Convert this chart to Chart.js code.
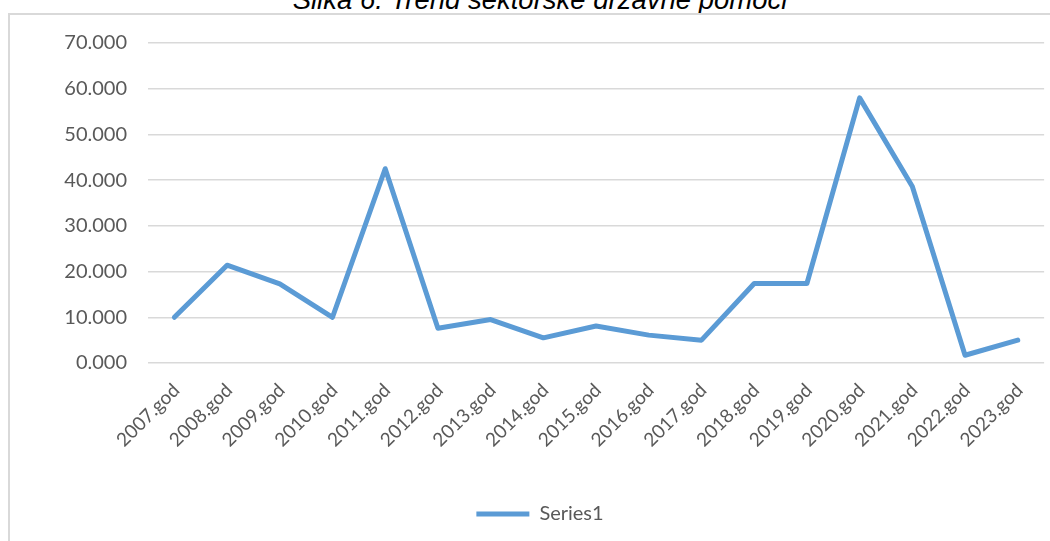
<!DOCTYPE html>
<html>
<head>
<meta charset="utf-8">
<script src="https://cdn.jsdelivr.net/npm/chart.js@4/dist/chart.umd.min.js"></script>
<style>
  html, body { margin: 0; padding: 0; background: #ffffff; }
  #wrap { position: relative; width: 1050px; height: 541px; overflow: hidden; background: #fff; }
  #title { position: absolute; left: 0; width: 1080px; top: -14px; text-align: center;
           font-family: "Liberation Sans", Arial, sans-serif; font-style: italic;
           font-size: 27.5px; line-height: 27px; color: #000; white-space: nowrap; }
  #frame { position: absolute; left: 8px; top: 13px; width: 1050px; height: 540px;
           border-left: 2px solid #d9d9d9; border-top: 2px solid #d9d9d9; box-sizing: border-box; }
  #c { position: absolute; left: 0; top: 0; }
</style>
</head>
<body>
<div id="wrap">
  <div id="title">Slika 6. Trend sektorske državne pomoći</div>
  <div id="frame"></div>
  <canvas id="c" width="1050" height="541"></canvas>
</div>
<script>
const categories = ["2007.god","2008.god","2009.god","2010.god","2011.god","2012.god","2013.god","2014.god","2015.god","2016.god","2017.god","2018.god","2019.god","2020.god","2021.god","2022.god","2023.god"];
const series1 = [10.0, 21.4, 17.3, 10.0, 42.5, 7.6, 9.5, 5.5, 8.1, 6.1, 5.0, 17.4, 17.4, 58.0, 38.6, 1.7, 5.0];
const seriesName = "Series1";
const yTicks = [0, 10, 20, 30, 40, 50, 60, 70];

const lineColor = "#5b9bd5";
const textColor = "#595959";
const gridColor = "#d9d9d9";

const legendShift = {
  id: "legendShift",
  afterLayout(chart) {
    if (chart.legend) { chart.legend.left += 17; chart.legend.right += 17; }
  }
};

new Chart(document.getElementById("c"), {
  type: "line",
  data: {
    labels: categories,
    datasets: [{
      label: seriesName,
      data: series1,
      borderColor: lineColor,
      backgroundColor: lineColor,
      borderWidth: 5,
      borderJoinStyle: "round",
      borderCapStyle: "round",
      pointRadius: 0,
      pointHoverRadius: 0,
      tension: 0,
      fill: false
    }]
  },
  options: {
    responsive: false,
    animation: false,
    devicePixelRatio: 1,
    layout: { padding: { left: 0, right: 4, top: 43, bottom: 7 } },
    plugins: {
      title: { display: false },
      tooltip: { enabled: false },
      legend: {
        position: "bottom",
        labels: {
          font: { family: "Lato", size: 20 },
          color: textColor,
          boxWidth: 53,
          boxHeight: 5,
          padding: 8,
          generateLabels(chart) {
            const items = Chart.defaults.plugins.legend.labels.generateLabels(chart);
            items.forEach(it => { it.lineWidth = 0; it.fillStyle = lineColor; });
            return items;
          }
        }
      }
    },
    scales: {
      x: {
        offset: true,
        grid: { display: false, drawTicks: false },
        border: { display: false },
        ticks: {
          autoSkip: false,
          maxRotation: 45,
          minRotation: 45,
          padding: 16,
          labelOffset: 2,
          color: textColor,
          font: { family: "Lato", size: 19 }
        },
        afterFit(scale) { scale.height = 133; }
      },
      y: {
        min: 0,
        max: 70,
        afterBuildTicks(scale) { scale.ticks = yTicks.map(v => ({ value: v })); },
        grid: { color: gridColor, lineWidth: 1.5, drawTicks: false },
        border: { display: false },
        ticks: {
          padding: 21,
          color: textColor,
          font: { family: "Lato", size: 20 },
          callback: v => Number(v).toFixed(3)
        },
        afterFit(scale) { scale.width = 148; }
      }
    }
  },
  plugins: [legendShift]
});
</script>
</body>
</html>
